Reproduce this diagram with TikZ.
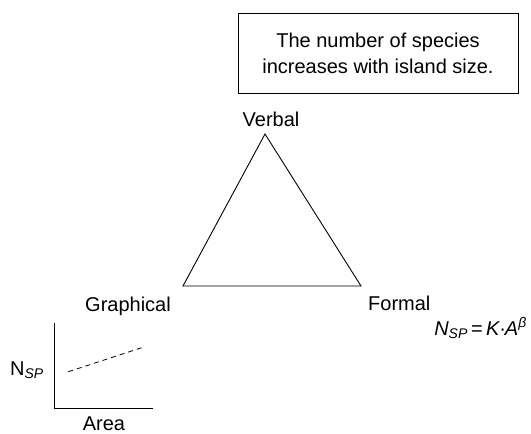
\documentclass[tikz,border=0pt]{standalone}
\usepackage{fontspec}
\setmainfont{Liberation Sans}
\begin{document}
\begin{tikzpicture}[x=1pt,y=-1pt,
  lbl/.style={inner sep=0pt, anchor=base, font=\fontsize{20}{26}\selectfont},
  thin line/.style={line width=0.9pt, black}]
\useasboundingbox (0,0) rectangle (531,434);

% statement box
\node[draw, line width=1pt, minimum width=280pt, minimum height=80pt, inner sep=0pt,
      align=center, font=\fontsize{20}{26}\selectfont] (stmt) at (378,53)
  {The number of species\\increases with island size.};

% triangle of representations
\coordinate (v) at (265,134);
\coordinate (g) at (183,286);
\coordinate (f) at (361,286);
\draw[thin line, line join=miter] (v) -- (g) -- (f) -- cycle;

\node[lbl] (verbal) at (271,126.7) {Verbal};
\node[lbl] (graphical) at (128,311) {Graphical};
\node[lbl, anchor=base west] (formal) at (368,310) {Formal};

% formula
\node[lbl, anchor=base east] (formula) at (527,335)
  {\textit{N}\textsubscript{\textit{SP}}\,=\,\textit{K}\kern-1pt·\kern-1pt\textit{A}\textsuperscript{\textit{β}}};

% small graph
\coordinate (ytop) at (54.3,323);
\coordinate (orig) at (54.3,408.3);
\coordinate (xend) at (152.7,408.3);
\draw[thin line] (ytop) -- (orig) -- (xend);
\coordinate (d1) at (68.3,371.7);
\coordinate (d2) at (141.7,347.7);
\draw[line width=0.8pt, dash pattern=on 5pt off 4pt] (d1) -- (d2);
\node[lbl, anchor=base west] (nsp) at (10,375) {N\textsubscript{\textit{SP}}};
\node[lbl] (area) at (104,430) {Area};
\end{tikzpicture}
\end{document}
